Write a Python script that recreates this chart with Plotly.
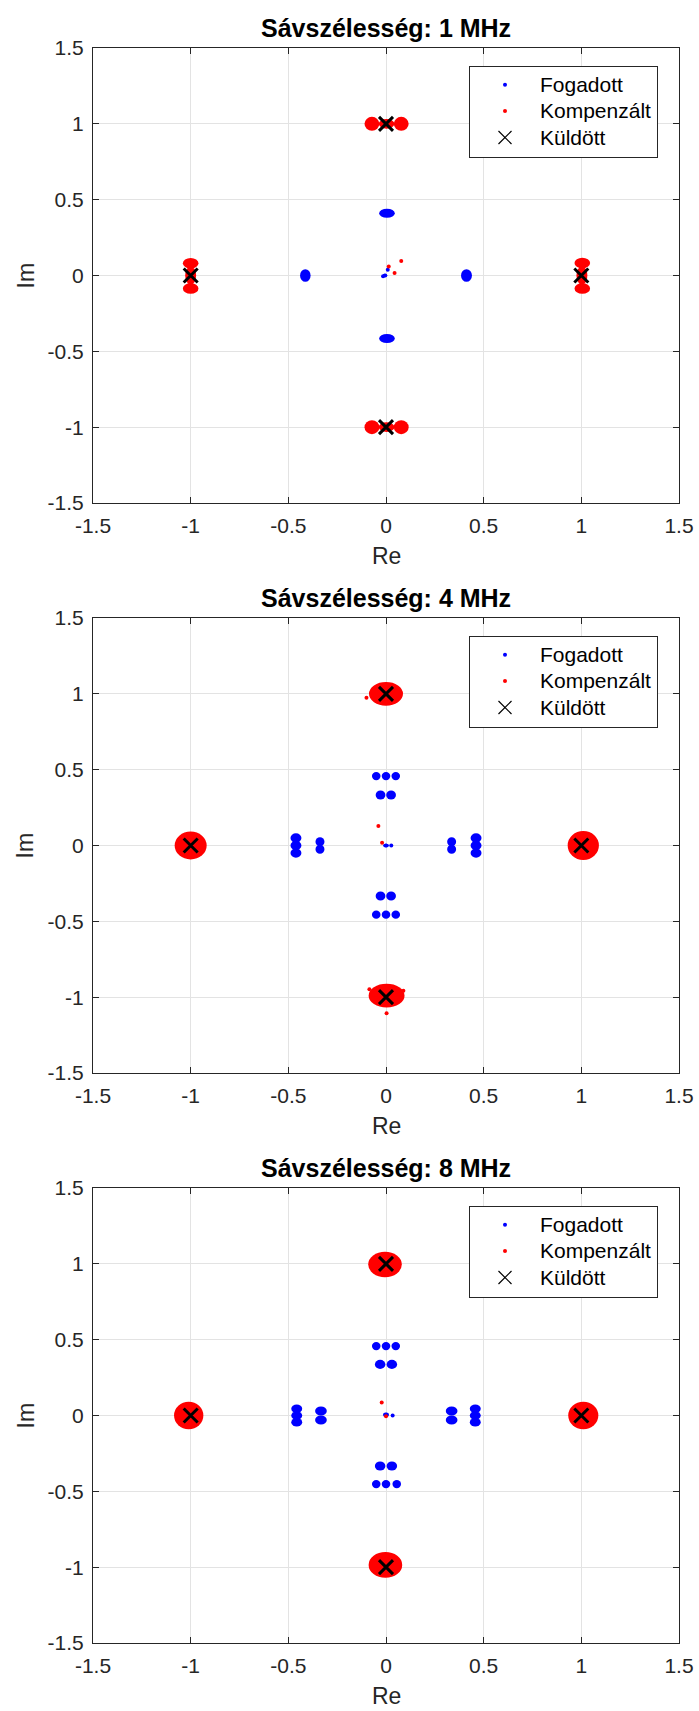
import plotly.graph_objects as go

W, H = 699, 1711

BANDWIDTHS = ["1 MHz", "4 MHz", "8 MHz"]
TICK_VALUES = [-1.5, -1, -0.5, 0, 0.5, 1, 1.5]
TICK_LABELS = ["-1.5", "-1", "-0.5", "0", "0.5", "1", "1.5"]
SERIES_NAMES = ["Fogadott", "Kompenzált", "Küldött"]
SENT_RE = [1, 0, -1, 0]
SENT_IM = [0, 1, 0, -1]

# ---- 1 MHz ----
# received (Fogadott) clusters: centre re/im and half-spread re/im
RX1_RE = [0.005, 0.005, -0.413, 0.412, -0.005]
RX1_IM = [0.41, -0.415, 0.0, 0.0, 0.0]
RX1_SRE = [0.04, 0.04, 0.027, 0.028, 0.012]
RX1_SIM = [0.03, 0.03, 0.042, 0.042, 0.012]
RX1_PT_RE = [0.009, -0.015]
RX1_PT_IM = [0.038, -0.005]
# compensated (Kompenzált) clusters
CP1_RE = [-0.072, 0.078, 0.003, -0.072, 0.078, 0.003, -1.0, -1.0, -1.0, 1.005, 1.005, 1.003]
CP1_IM = [1.0, 1.0, 1.0, -1.0, -1.0, -1.0, 0.08, -0.085, 0.0, 0.082, -0.085, 0.0]
CP1_SRE = [0.038, 0.038, 0.04, 0.038, 0.038, 0.04, 0.04, 0.04, 0.028, 0.04, 0.04, 0.028]
CP1_SIM = [0.046, 0.046, 0.032, 0.046, 0.046, 0.032, 0.035, 0.035, 0.06, 0.035, 0.035, 0.06]
CP1_PT_RE = [0.014, 0.078, 0.044]
CP1_PT_IM = [0.06, 0.096, 0.016]

# ---- 4 MHz ----
RX4_RE = [-0.05, 0.0, 0.05, -0.028, 0.026, -0.028, 0.026, -0.05, 0.0, 0.05,
          -0.461, -0.461, -0.461, -0.338, -0.338, 0.336, 0.336, 0.461, 0.461, 0.461, 0.0]
RX4_IM = [0.458, 0.458, 0.458, 0.333, 0.333, -0.333, -0.333, -0.456, -0.456, -0.456,
          -0.05, 0.0, 0.05, -0.025, 0.025, -0.025, 0.025, -0.05, 0.0, 0.05, 0.0]
RX4_SRE = [0.022, 0.022, 0.022, 0.025, 0.025, 0.025, 0.025, 0.022, 0.022, 0.022,
           0.028, 0.028, 0.028, 0.023, 0.023, 0.023, 0.023, 0.028, 0.028, 0.028, 0.015]
RX4_SIM = [0.027, 0.027, 0.027, 0.03, 0.03, 0.03, 0.03, 0.027, 0.027, 0.027,
           0.03, 0.03, 0.03, 0.03, 0.03, 0.03, 0.03, 0.03, 0.03, 0.03, 0.012]
RX4_PT_RE = [0.027]
RX4_PT_IM = [0.0]
CP4_RE = [0.0, 0.003, -1.0, 1.01]
CP4_IM = [1.0, -0.99, 0.0, 0.0]
CP4_SRE = [0.087, 0.092, 0.082, 0.08]
CP4_SIM = [0.078, 0.078, 0.092, 0.095]
CP4_PT_RE = [-0.039, -0.02, 0.003, -0.1, -0.085, 0.089]
CP4_PT_IM = [0.128, 0.018, -1.106, 0.974, -0.948, -0.957]

# ---- 8 MHz ----
RX8_RE = [-0.05, 0.0, 0.05, -0.03, 0.03, -0.03, 0.03, -0.05, 0.0, 0.055,
          -0.457, -0.457, -0.457, -0.333, -0.333, 0.336, 0.336, 0.457, 0.457, 0.457, 0.0]
RX8_IM = [0.458, 0.458, 0.458, 0.337, 0.337, -0.333, -0.333, -0.452, -0.452, -0.452,
          -0.045, 0.0, 0.045, -0.03, 0.03, -0.03, 0.03, -0.045, 0.0, 0.045, 0.005]
RX8_SRE = [0.022, 0.022, 0.022, 0.027, 0.027, 0.027, 0.027, 0.022, 0.022, 0.022,
           0.028, 0.028, 0.028, 0.03, 0.03, 0.03, 0.03, 0.028, 0.028, 0.028, 0.015]
RX8_SIM = [0.027, 0.027, 0.027, 0.03, 0.03, 0.03, 0.03, 0.027, 0.027, 0.027,
           0.028, 0.028, 0.028, 0.03, 0.03, 0.03, 0.03, 0.028, 0.028, 0.028, 0.015]
RX8_PT_RE = [0.034]
RX8_PT_IM = [0.0]
CP8_RE = [-0.005, -0.003, -1.01, 1.01]
CP8_IM = [0.995, -0.985, 0.0, 0.0]
CP8_SRE = [0.086, 0.086, 0.075, 0.077]
CP8_SIM = [0.084, 0.085, 0.09, 0.09]
CP8_PT_RE = [-0.022, 0.0]
CP8_PT_IM = [0.085, -0.005]

PANELS = [
    (RX1_RE, RX1_IM, RX1_SRE, RX1_SIM, RX1_PT_RE, RX1_PT_IM,
     CP1_RE, CP1_IM, CP1_SRE, CP1_SIM, CP1_PT_RE, CP1_PT_IM),
    (RX4_RE, RX4_IM, RX4_SRE, RX4_SIM, RX4_PT_RE, RX4_PT_IM,
     CP4_RE, CP4_IM, CP4_SRE, CP4_SIM, CP4_PT_RE, CP4_PT_IM),
    (RX8_RE, RX8_IM, RX8_SRE, RX8_SIM, RX8_PT_RE, RX8_PT_IM,
     CP8_RE, CP8_IM, CP8_SRE, CP8_SIM, CP8_PT_RE, CP8_PT_IM),
]

BLUE = "#0000ff"
RED = "#ff0000"
AXC = "#262626"
GRID = "#e3e3e3"
FONT = "Liberation Sans, Arial, sans-serif"

# layout in pixels
AX_L, AX_R = 93, 679
AX_TOPS = [48, 618, 1188]
AX_H = 455
LEG_L = 469
LEG_TOP_OFF = 17.5


def leg_name(s):
    return f'<span style="font-size:21px">{s}</span>'


fig = go.Figure()
shapes = []
annotations = []
layout = dict(
    width=W, height=H, margin=dict(l=0, r=0, t=0, b=0, autoexpand=False),
    paper_bgcolor="white", plot_bgcolor="white",
    font=dict(family=FONT, color=AXC),
)

for i, (rre, rim, rsre, rsim, rpre, rpim, cre, cim, csre, csim, cpre, cpim) in enumerate(PANELS):
    n = i + 1
    xr = "x" if n == 1 else f"x{n}"
    yr = "y" if n == 1 else f"y{n}"
    leg = "legend" if n == 1 else f"legend{n}"

    for cx, cy, sx, sy in zip(rre, rim, rsre, rsim):
        shapes.append(dict(type="circle", xref=xr, yref=yr, x0=cx - sx, x1=cx + sx,
                           y0=cy - sy, y1=cy + sy, fillcolor=BLUE, line=dict(width=0),
                           layer="between"))
    for cx, cy, sx, sy in zip(cre, cim, csre, csim):
        shapes.append(dict(type="circle", xref=xr, yref=yr, x0=cx - sx, x1=cx + sx,
                           y0=cy - sy, y1=cy + sy, fillcolor=RED, line=dict(width=0),
                           layer="between"))

    fig.add_trace(go.Scatter(x=list(rre) + list(rpre), y=list(rim) + list(rpim), mode="markers",
                             name=leg_name(SERIES_NAMES[0]), marker=dict(color=BLUE, size=4),
                             xaxis=xr, yaxis=yr, legend=leg))
    fig.add_trace(go.Scatter(x=list(cre) + list(cpre), y=list(cim) + list(cpim), mode="markers",
                             name=leg_name(SERIES_NAMES[1]), marker=dict(color=RED, size=4),
                             xaxis=xr, yaxis=yr, legend=leg))
    fig.add_trace(go.Scatter(x=SENT_RE, y=SENT_IM, mode="markers", name=leg_name(SERIES_NAMES[2]),
                             marker=dict(symbol="x-thin", size=13, color="black",
                                         line=dict(width=1.2, color="black")),
                             xaxis=xr, yaxis=yr, legend=leg))
    fig.add_trace(go.Scatter(x=SENT_RE, y=SENT_IM, mode="markers", showlegend=False,
                             marker=dict(symbol="x-thin", size=14, color="black",
                                         line=dict(width=3, color="black")),
                             xaxis=xr, yaxis=yr, hoverinfo="skip"))

    top = AX_TOPS[i]
    bot = top + AX_H
    axcommon = dict(range=[-1.5, 1.5], tickvals=TICK_VALUES, ticktext=TICK_LABELS,
                    showgrid=True, gridcolor=GRID, gridwidth=1, zeroline=False,
                    showline=True, linecolor=AXC, linewidth=1, mirror="ticks",
                    ticks="inside", ticklen=6, tickcolor=AXC, tickwidth=1,
                    automargin=False, fixedrange=True,
                    tickfont=dict(family=FONT, size=21, color=AXC))
    layout["xaxis" if n == 1 else f"xaxis{n}"] = dict(
        domain=[AX_L / W, AX_R / W], anchor=yr, ticklabelstandoff=4, **axcommon)
    layout["yaxis" if n == 1 else f"yaxis{n}"] = dict(
        domain=[1 - bot / H, 1 - top / H], anchor=xr, ticklabelstandoff=4, **axcommon)

    layout[leg] = dict(x=LEG_L / W, xanchor="left", y=1 - (top + LEG_TOP_OFF) / H,
                       yanchor="top", bgcolor="white", bordercolor=AXC, borderwidth=1,
                       font=dict(family=FONT, size=18, color="black"),
                       itemwidth=60, tracegroupgap=0)

    cx_mid = (AX_L + AX_R) / 2 / W
    annotations.append(dict(text=f"<b>Sávszélesség: {BANDWIDTHS[i]}</b>", x=cx_mid, y=1 - (top - 20.5) / H,
                            xref="paper", yref="paper", xanchor="center", yanchor="middle",
                            showarrow=False, font=dict(family=FONT, size=25, color="black")))
    annotations.append(dict(text="Re", x=cx_mid, y=1 - (bot + 53) / H,
                            xref="paper", yref="paper", xanchor="center", yanchor="middle",
                            showarrow=False, font=dict(family=FONT, size=23, color=AXC)))
    annotations.append(dict(text="Im", x=25 / W, y=1 - (top + AX_H / 2) / H,
                            xref="paper", yref="paper", xanchor="center", yanchor="middle",
                            textangle=-90, showarrow=False,
                            font=dict(family=FONT, size=23, color=AXC)))

layout["shapes"] = shapes
layout["annotations"] = annotations
fig.update_layout(**layout)

fig.write_html("out.html", config={"displayModeBar": False},
               post_script="document.body.style.margin='0';")
